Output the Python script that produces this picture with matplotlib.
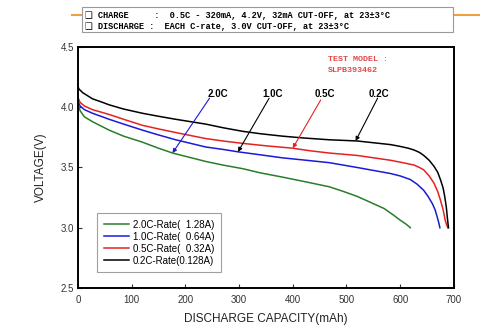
import matplotlib
matplotlib.use("Agg")
import matplotlib.pyplot as plt
from matplotlib.patches import Rectangle
from matplotlib.lines import Line2D

plt.rcParams['font.family'] = ['Liberation Sans', 'DejaVu Sans']

# Discharge curves: capacity (mAh) vs voltage (V)
cap_02c = [0, 2, 9, 27, 46, 58, 85, 120, 150, 182, 238, 270, 307, 340, 381, 420, 468, 520,
           582, 600, 615, 626, 636, 644, 654, 663, 670, 675, 680, 683, 686, 688, 690]
v_02c = [4.17, 4.15, 4.12, 4.07, 4.04, 4.02, 3.985, 3.95, 3.925, 3.90, 3.86, 3.83, 3.80, 3.78,
         3.76, 3.745, 3.73, 3.72, 3.69, 3.675, 3.66, 3.645, 3.625, 3.60, 3.56, 3.51, 3.46,
         3.40, 3.33, 3.26, 3.17, 3.08, 3.00]

cap_05c = [0, 4, 12, 27, 58, 85, 120, 150, 182, 238, 270, 307, 350, 400, 430, 468, 520,
           582, 605, 626, 636, 644, 654, 663, 670, 675, 680, 684, 687, 689]
v_05c = [4.08, 4.04, 4.01, 3.98, 3.94, 3.90, 3.85, 3.82, 3.79, 3.74, 3.72, 3.70, 3.68, 3.66,
         3.64, 3.62, 3.60, 3.56, 3.54, 3.52, 3.50, 3.48, 3.43, 3.37, 3.30, 3.23, 3.15, 3.06,
         3.02, 3.00]

cap_10c = [0, 4, 12, 27, 58, 85, 120, 150, 182, 238, 270, 298, 340, 381, 425, 468, 520,
           582, 600, 619, 632, 644, 652, 660, 665, 669, 672, 674]
v_10c = [4.05, 4.01, 3.98, 3.95, 3.90, 3.86, 3.81, 3.77, 3.73, 3.67, 3.65, 3.63, 3.605, 3.58,
         3.56, 3.54, 3.50, 3.45, 3.43, 3.40, 3.36, 3.31, 3.26, 3.20, 3.15, 3.09, 3.04, 3.00]

cap_20c = [0, 4, 12, 27, 58, 85, 120, 150, 176, 238, 270, 307, 340, 381, 425, 468, 495,
           520, 545, 570, 586, 601, 611, 619]
v_20c = [4.03, 3.97, 3.92, 3.88, 3.81, 3.76, 3.71, 3.66, 3.62, 3.55, 3.52, 3.49, 3.455, 3.42,
         3.38, 3.34, 3.30, 3.26, 3.21, 3.16, 3.11, 3.06, 3.03, 3.00]

legend_labels = ['2.0C-Rate(  1.28A)', '1.0C-Rate(  0.64A)', '0.5C-Rate(  0.32A)', '0.2C-Rate(0.128A)']
rate_names = ['2.0C', '1.0C', '0.5C', '0.2C']

x_ticks = [0, 100, 200, 300, 400, 500, 600, 700]
y_ticks = [2.5, 3.0, 3.5, 4.0, 4.5]

GREEN = '#2a7d2a'
BLUE = '#1a1ad8'
RED = '#e52222'
BLACK = '#000000'

fig = plt.figure(figsize=(4.8, 3.3), dpi=100)
ax = fig.add_axes([0.1625, 0.1273, 0.783, 0.7303])

ax.plot(cap_20c, v_20c, color=GREEN, lw=1.1, label=legend_labels[0])
ax.plot(cap_10c, v_10c, color=BLUE, lw=1.1, label=legend_labels[1])
ax.plot(cap_05c, v_05c, color=RED, lw=1.1, label=legend_labels[2])
ax.plot(cap_02c, v_02c, color=BLACK, lw=1.1, label=legend_labels[3])

ax.set_xlim(0, 700)
ax.set_ylim(2.5, 4.5)
ax.set_xticks(x_ticks)
ax.set_yticks(y_ticks)
ax.set_yticklabels([f'{v:.1f}' for v in y_ticks])
ax.tick_params(direction='in', length=3, width=0.8, labelsize=7, colors='#333333', pad=3)
ax.tick_params(axis='x', pad=5)
for s in ax.spines.values():
    s.set_linewidth(1.4)
    s.set_color('black')

ax.set_xlabel('DISCHARGE CAPACITY(mAh)', fontsize=8.5, color='#222222', labelpad=6)
ax.set_ylabel('VOLTAGE(V)', fontsize=8.5, color='#222222', labelpad=10)

leg = ax.legend(loc='upper left', bbox_to_anchor=(0.05, 0.311), borderaxespad=0,
                fontsize=7, frameon=True, fancybox=False, handlelength=2.6,
                labelspacing=0.2, handletextpad=0.4, borderpad=0.7)
leg.get_frame().set_edgecolor('#888888')
leg.get_frame().set_linewidth(0.8)

# rate labels with pointer arrows
label_x = [260, 362, 460, 561]
label_y = 4.11
arrow_start = [(245, 4.075), (356, 4.075), (452, 4.06), (558, 4.075)]
arrow_tip = [(176, 3.62), (298, 3.63), (400, 3.66), (517, 3.72)]
arrow_colors = [BLUE, BLACK, RED, BLACK]
for name, lx, st, tip, c in zip(rate_names, label_x, arrow_start, arrow_tip, arrow_colors):
    ax.text(lx, label_y, name, fontsize=7, fontweight='bold', ha='center', va='center')
    ax.annotate('', xy=tip, xytext=st,
                arrowprops=dict(arrowstyle='-|>', color=c, lw=0.8,
                                mutation_scale=6, shrinkA=0, shrinkB=0))

mono = ['Liberation Mono', 'DejaVu Sans']
ax.text(0.664, 0.949, 'TEST MODEL :', transform=ax.transAxes, fontsize=6,
        family=mono, fontweight='bold', color='#e04848', va='center')
ax.text(0.664, 0.904, 'SLPB393462', transform=ax.transAxes, fontsize=6,
        family=mono, fontweight='bold', color='#e04848', va='center')

# test condition header
fig.add_artist(Line2D([72 / 480, 1.0], [1 - 15 / 330, 1 - 15 / 330],
                      color='#f0a040', lw=1.5, zorder=1))
fig.add_artist(Rectangle((82 / 480, 1 - 32 / 330), (453 - 82) / 480, 25 / 330,
                         facecolor='white', edgecolor='#999999', lw=0.8, zorder=2))
fig.text(85 / 480, 1 - 16 / 330,
         '\u2751 CHARGE     :  0.5C - 320mA, 4.2V, 32mA CUT-OFF, at 23\u00b13\u00b0C',
         fontsize=6.2, family=mono, fontweight='bold', va='center', zorder=3)
fig.text(85 / 480, 1 - 26.5 / 330,
         '\u2751 DISCHARGE :  EACH C-rate, 3.0V CUT-OFF, at 23\u00b13\u00b0C',
         fontsize=6.2, family=mono, fontweight='bold', va='center', zorder=3)

fig.savefig('out.png', dpi=100)
